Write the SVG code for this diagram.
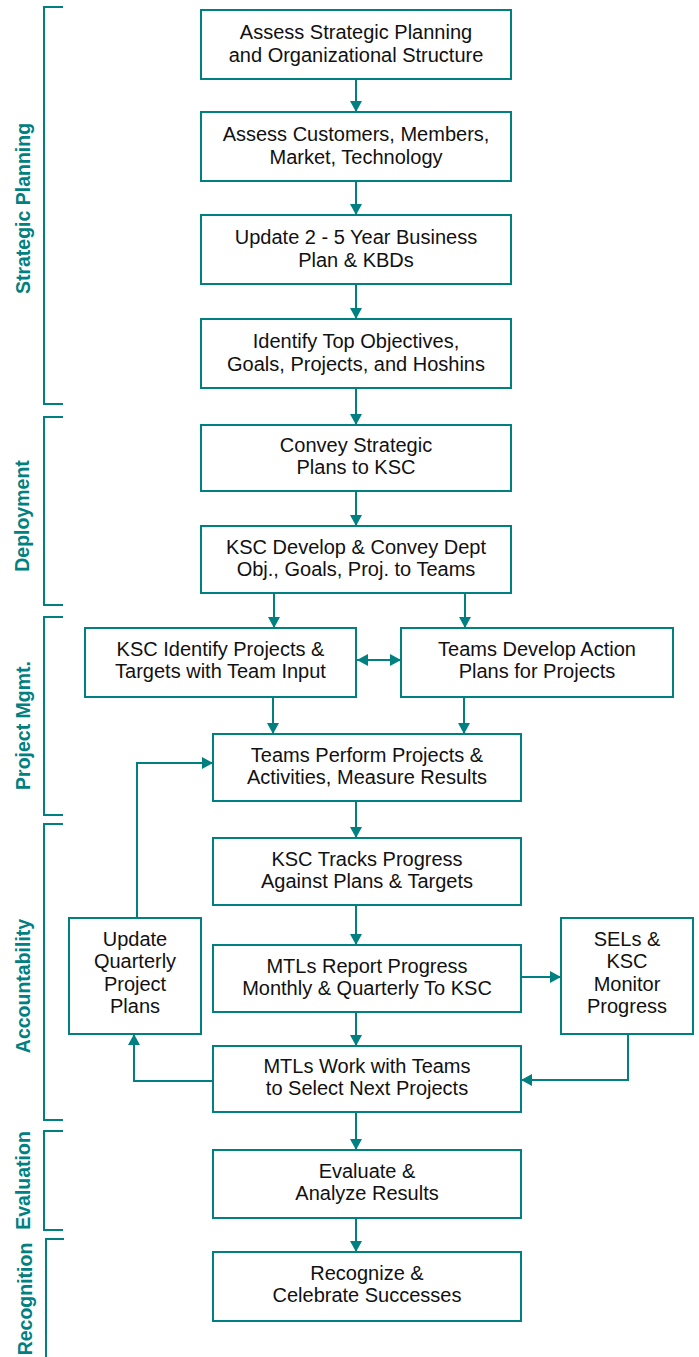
<svg xmlns="http://www.w3.org/2000/svg" width="699" height="1357" viewBox="0 0 699 1357">
  <style>
    .box { fill: #ffffff; stroke: #008080; stroke-width: 2; }
    .t { font-family: "Liberation Sans", Arial, sans-serif; font-size: 20px; fill: #111111; text-anchor: middle; }
    .phase { font-family: "Liberation Sans", Arial, sans-serif; font-size: 19.5px; font-weight: bold; fill: #008080; text-anchor: middle; }
    .bracket { fill: none; stroke: #008080; stroke-width: 2; }
    .conn { fill: none; stroke: #008080; stroke-width: 2; }
  </style>
  <defs>
    <marker id="arrow" markerUnits="userSpaceOnUse" markerWidth="12" markerHeight="12" refX="11" refY="6" orient="auto-start-reverse">
      <path d="M0,0 L11,6 L0,12 Z" fill="#008080"/>
    </marker>
  </defs>
  <rect width="699" height="1357" fill="#ffffff"/>

  <!-- phase brackets and labels -->
  <g id="phases">
    <path class="bracket" d="M63,7 H44 V404 H63"/>
    <text class="phase" transform="translate(30,208.5) rotate(-90)">Strategic Planning</text>
    <path class="bracket" d="M63,417 H44 V605 H63"/>
    <text class="phase" transform="translate(29,516) rotate(-90)">Deployment</text>
    <path class="bracket" d="M63,617 H44 V815 H63"/>
    <text class="phase" transform="translate(29.5,725.5) rotate(-90)">Project Mgmt.</text>
    <path class="bracket" d="M63,824 H44 V1120 H63"/>
    <text class="phase" transform="translate(29.5,986) rotate(-90)">Accountability</text>
    <path class="bracket" d="M63,1131 H44 V1230 H63"/>
    <text class="phase" transform="translate(29.5,1180.5) rotate(-90)">Evaluation</text>
    <path class="bracket" d="M64,1239 H46 V1357"/>
    <text class="phase" transform="translate(31.5,1299) rotate(-90)">Recognition</text>
  </g>

  <!-- connectors -->
  <g id="connectors">
    <line class="conn" x1="356" y1="79" x2="356" y2="112" marker-end="url(#arrow)"/>
    <line class="conn" x1="356" y1="181" x2="356" y2="215" marker-end="url(#arrow)"/>
    <line class="conn" x1="356" y1="284" x2="356" y2="319" marker-end="url(#arrow)"/>
    <line class="conn" x1="356" y1="388" x2="356" y2="425" marker-end="url(#arrow)"/>
    <line class="conn" x1="356" y1="491" x2="356" y2="526" marker-end="url(#arrow)"/>
    <line class="conn" x1="274" y1="593" x2="274" y2="628" marker-end="url(#arrow)"/>
    <line class="conn" x1="465" y1="593" x2="465" y2="628" marker-end="url(#arrow)"/>
    <line class="conn" x1="357" y1="660" x2="401" y2="660" marker-start="url(#arrow)" marker-end="url(#arrow)"/>
    <line class="conn" x1="273" y1="697" x2="273" y2="734" marker-end="url(#arrow)"/>
    <line class="conn" x1="464" y1="697" x2="464" y2="734" marker-end="url(#arrow)"/>
    <line class="conn" x1="356" y1="801" x2="356" y2="838" marker-end="url(#arrow)"/>
    <line class="conn" x1="356" y1="905" x2="356" y2="945" marker-end="url(#arrow)"/>
    <line class="conn" x1="356" y1="1012" x2="356" y2="1046" marker-end="url(#arrow)"/>
    <line class="conn" x1="356" y1="1112" x2="356" y2="1150" marker-end="url(#arrow)"/>
    <line class="conn" x1="356" y1="1218" x2="356" y2="1252" marker-end="url(#arrow)"/>
    <line class="conn" x1="521" y1="977" x2="561" y2="977" marker-end="url(#arrow)"/>
    <path class="conn" d="M628,1034 V1080 H521" marker-end="url(#arrow)"/>
    <path class="conn" d="M213,1081 H134 V1034" marker-end="url(#arrow)"/>
    <path class="conn" d="M137,918 V763 H213" marker-end="url(#arrow)"/>
  </g>

  <g id="assess-planning">
    <rect class="box" x="201" y="10" width="310" height="69"/>
    <text class="t" x="356" y="38.5">Assess Strategic Planning</text>
    <text class="t" x="356" y="61.5">and Organizational Structure</text>
  </g>
  <g id="assess-customers">
    <rect class="box" x="201" y="112" width="310" height="69"/>
    <text class="t" x="356" y="140.5">Assess Customers, Members,</text>
    <text class="t" x="356" y="163.5">Market, Technology</text>
  </g>
  <g id="update-plan">
    <rect class="box" x="201" y="215" width="310" height="69"/>
    <text class="t" x="356" y="243.5">Update 2 - 5 Year Business</text>
    <text class="t" x="356" y="266.5">Plan &amp; KBDs</text>
  </g>
  <g id="identify-objectives">
    <rect class="box" x="201" y="319" width="310" height="69"/>
    <text class="t" x="356" y="347.5">Identify Top Objectives,</text>
    <text class="t" x="356" y="370.5">Goals, Projects, and Hoshins</text>
  </g>
  <g id="convey-plans">
    <rect class="box" x="201" y="425" width="310" height="66"/>
    <text class="t" x="356" y="452">Convey Strategic</text>
    <text class="t" x="356" y="474">Plans to KSC</text>
  </g>
  <g id="ksc-develop">
    <rect class="box" x="201" y="526" width="310" height="67"/>
    <text class="t" x="356" y="553.5">KSC Develop &amp; Convey Dept</text>
    <text class="t" x="356" y="575.5">Obj., Goals, Proj. to Teams</text>
  </g>
  <g id="ksc-identify">
    <rect class="box" x="85" y="628" width="271" height="69"/>
    <text class="t" x="220.5" y="656">KSC Identify Projects &amp;</text>
    <text class="t" x="220.5" y="678">Targets with Team Input</text>
  </g>
  <g id="teams-develop">
    <rect class="box" x="401" y="628" width="272" height="69"/>
    <text class="t" x="537" y="656">Teams Develop Action</text>
    <text class="t" x="537" y="678">Plans for Projects</text>
  </g>
  <g id="teams-perform">
    <rect class="box" x="213" y="734" width="308" height="67"/>
    <text class="t" x="367" y="761.5">Teams Perform Projects &amp;</text>
    <text class="t" x="367" y="783.5">Activities, Measure Results</text>
  </g>
  <g id="ksc-tracks">
    <rect class="box" x="213" y="838" width="308" height="67"/>
    <text class="t" x="367" y="865.5">KSC Tracks Progress</text>
    <text class="t" x="367" y="887.5">Against Plans &amp; Targets</text>
  </g>
  <g id="mtls-report">
    <rect class="box" x="213" y="945" width="308" height="67"/>
    <text class="t" x="367" y="972.5">MTLs Report Progress</text>
    <text class="t" x="367" y="994.5">Monthly &amp; Quarterly To KSC</text>
  </g>
  <g id="mtls-work">
    <rect class="box" x="213" y="1046" width="308" height="66"/>
    <text class="t" x="367" y="1073">MTLs Work with Teams</text>
    <text class="t" x="367" y="1095">to Select Next Projects</text>
  </g>
  <g id="update-quarterly">
    <rect class="box" x="69" y="918" width="132" height="116"/>
    <text class="t" x="135" y="945.5">Update</text>
    <text class="t" x="135" y="968">Quarterly</text>
    <text class="t" x="135" y="990.5">Project</text>
    <text class="t" x="135" y="1013">Plans</text>
  </g>
  <g id="sels-monitor">
    <rect class="box" x="561" y="918" width="132" height="116"/>
    <text class="t" x="627" y="945.5">SELs &amp;</text>
    <text class="t" x="627" y="968">KSC</text>
    <text class="t" x="627" y="990.5">Monitor</text>
    <text class="t" x="627" y="1013">Progress</text>
  </g>
  <g id="evaluate">
    <rect class="box" x="213" y="1150" width="308" height="68"/>
    <text class="t" x="367" y="1178">Evaluate &amp;</text>
    <text class="t" x="367" y="1200">Analyze Results</text>
  </g>
  <g id="recognize">
    <rect class="box" x="213" y="1252" width="308" height="69"/>
    <text class="t" x="367" y="1280">Recognize &amp;</text>
    <text class="t" x="367" y="1302">Celebrate Successes</text>
  </g>
</svg>
